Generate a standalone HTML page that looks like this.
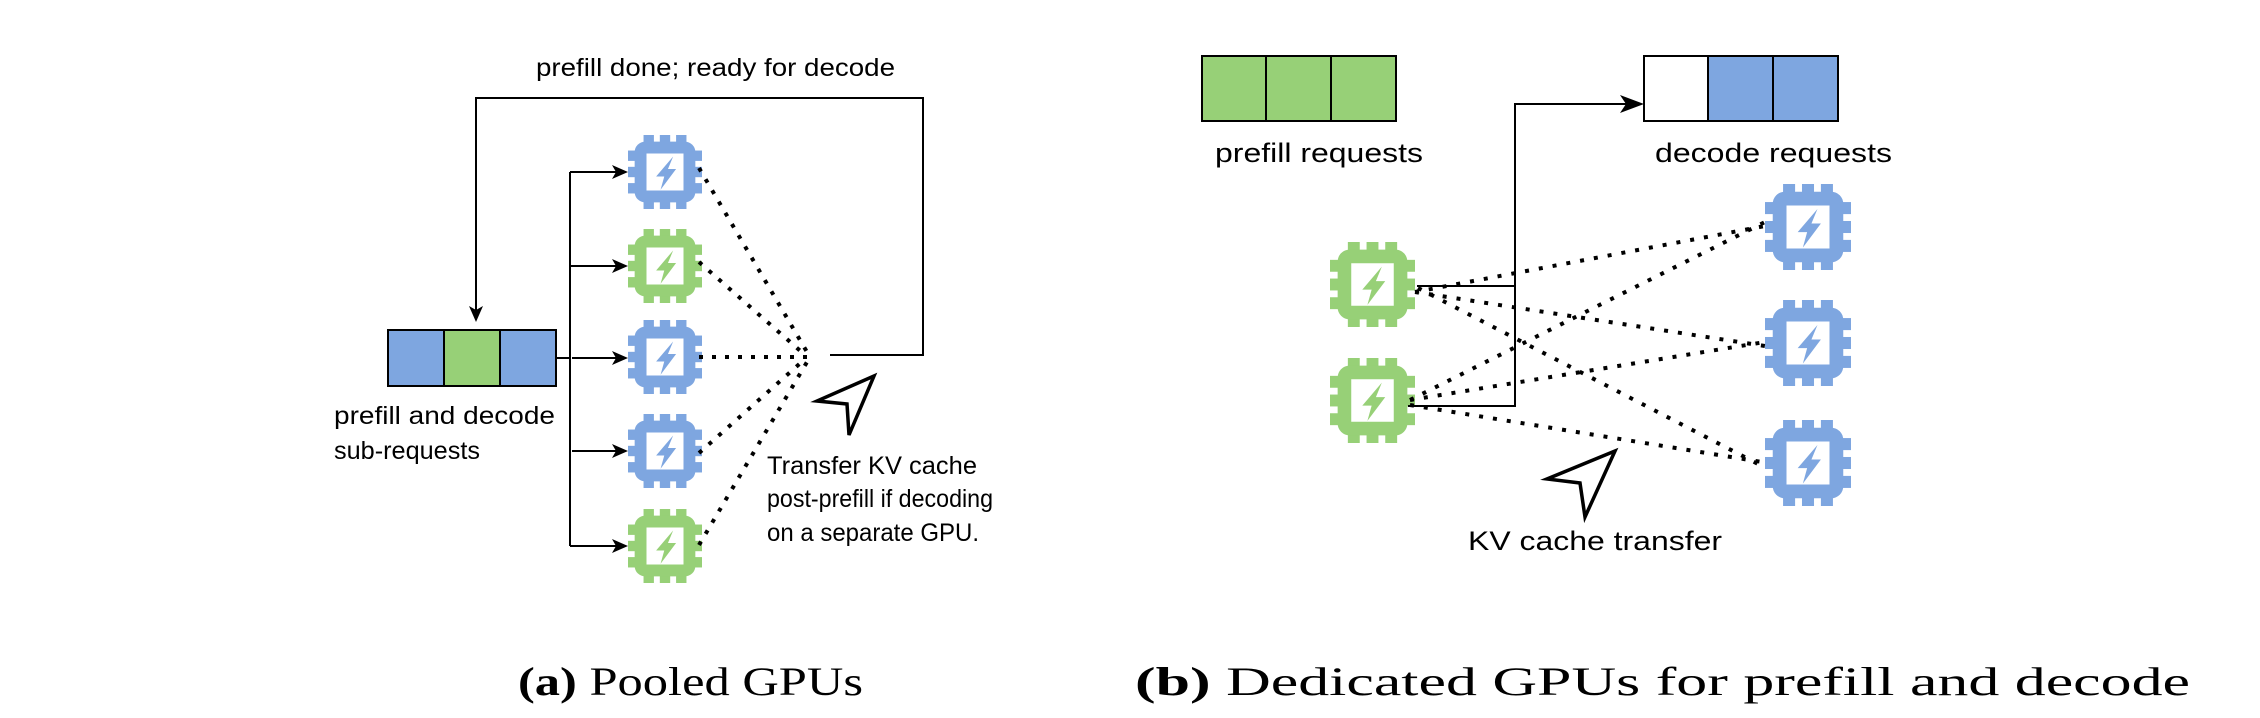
<!DOCTYPE html>
<html><head><meta charset="utf-8"><style>
html,body{margin:0;padding:0;background:#fff;}
svg{display:block;}
text{font-family:"Liberation Sans",sans-serif;fill:#000;}
.cap{font-family:"Liberation Serif",serif;}
</style></head><body>
<svg width="2260" height="718" viewBox="0 0 2260 718" xmlns="http://www.w3.org/2000/svg">
<defs>
<g id="chip">
  <rect x="21" y="0" width="14" height="14"/><rect x="43" y="0" width="14" height="14"/><rect x="65" y="0" width="14" height="14"/>
  <rect x="21" y="86" width="14" height="14"/><rect x="43" y="86" width="14" height="14"/><rect x="65" y="86" width="14" height="14"/>
  <rect x="0" y="21" width="14" height="14"/><rect x="0" y="43" width="14" height="14"/><rect x="0" y="65" width="14" height="14"/>
  <rect x="86" y="21" width="14" height="14"/><rect x="86" y="43" width="14" height="14"/><rect x="86" y="65" width="14" height="14"/>
  <rect x="9" y="9" width="82" height="82" rx="14"/>
  <rect x="25" y="25" width="50" height="50" fill="#fff"/>
  <polygon points="61,29 38,56 49,56 44,74 65,46 54,46"/>
</g>
</defs>

<!-- ===== (a) ===== -->
<text x="536" y="76" font-size="25" textLength="359" lengthAdjust="spacingAndGlyphs">prefill done; ready for decode</text>
<polyline points="830,355 923,355 923,98 476,98 476,315" fill="none" stroke="#000" stroke-width="2"/>
<polygon points="476,322 469,306 476,310 483,306" fill="#000"/>

<rect x="388" y="330" width="56" height="56" fill="#7EA6E0" stroke="#000" stroke-width="2"/>
<rect x="444" y="330" width="56" height="56" fill="#97D077" stroke="#000" stroke-width="2"/>
<rect x="500" y="330" width="56" height="56" fill="#7EA6E0" stroke="#000" stroke-width="2"/>
<text x="334" y="424" font-size="25" textLength="221" lengthAdjust="spacingAndGlyphs">prefill and decode</text>
<text x="334" y="459" font-size="25" textLength="146" lengthAdjust="spacingAndGlyphs">sub-requests</text>

<polyline points="556,358 570,358" stroke="#000" stroke-width="2"/>
<line x1="570" y1="172" x2="570" y2="546" stroke="#000" stroke-width="2"/>
<g stroke="#000" stroke-width="2">
<line x1="570" y1="172" x2="620" y2="172"/><line x1="570" y1="266" x2="620" y2="266"/>
<line x1="572" y1="358" x2="620" y2="358"/><line x1="572" y1="451" x2="620" y2="451"/>
<line x1="570" y1="546" x2="620" y2="546"/>
</g>
<g fill="#000">
<polygon points="628,172 612,165 616,172 612,179"/>
<polygon points="628,266 612,259 616,266 612,273"/>
<polygon points="628,358 612,351 616,358 612,365"/>
<polygon points="628,451 612,444 616,451 612,458"/>
<polygon points="628,546 612,539 616,546 612,553"/>
</g>
<use href="#chip" transform="translate(628,135) scale(0.74)" fill="#7EA6E0"/>
<use href="#chip" transform="translate(628,229) scale(0.74)" fill="#97D077"/>
<use href="#chip" transform="translate(628,320) scale(0.74)" fill="#7EA6E0"/>
<use href="#chip" transform="translate(628,414) scale(0.74)" fill="#7EA6E0"/>
<use href="#chip" transform="translate(628,509) scale(0.74)" fill="#97D077"/>

<g stroke="#000" stroke-width="4" stroke-dasharray="4 9" fill="none">
<line x1="699" y1="168" x2="807" y2="352"/>
<line x1="699" y1="262" x2="805" y2="355"/>
<line x1="699" y1="357" x2="809" y2="357"/>
<line x1="699" y1="453" x2="805" y2="359"/>
<line x1="699" y1="545" x2="807" y2="362"/>
</g>
<polygon points="874,376 817,401 847,404 849,435" fill="none" stroke="#000" stroke-width="3.5"/>
<text x="767" y="474" font-size="25" textLength="210" lengthAdjust="spacingAndGlyphs">Transfer KV cache</text>
<text x="767" y="507" font-size="25" textLength="226" lengthAdjust="spacingAndGlyphs">post-prefill if decoding</text>
<text x="767" y="541" font-size="25" textLength="212" lengthAdjust="spacingAndGlyphs">on a separate GPU.</text>

<!-- ===== (b) ===== -->
<rect x="1202" y="56" width="64" height="65" fill="#97D077" stroke="#000" stroke-width="2"/>
<rect x="1266" y="56" width="65" height="65" fill="#97D077" stroke="#000" stroke-width="2"/>
<rect x="1331" y="56" width="65" height="65" fill="#97D077" stroke="#000" stroke-width="2"/>
<text x="1215" y="162" font-size="27" textLength="208" lengthAdjust="spacingAndGlyphs">prefill requests</text>

<rect x="1644" y="56" width="64" height="65" fill="#fff" stroke="#000" stroke-width="2"/>
<rect x="1708" y="56" width="65" height="65" fill="#7EA6E0" stroke="#000" stroke-width="2"/>
<rect x="1773" y="56" width="65" height="65" fill="#7EA6E0" stroke="#000" stroke-width="2"/>
<text x="1655" y="162" font-size="27" textLength="237" lengthAdjust="spacingAndGlyphs">decode requests</text>

<use href="#chip" transform="translate(1330,242) scale(0.85)" fill="#97D077"/>
<use href="#chip" transform="translate(1330,358) scale(0.85)" fill="#97D077"/>
<use href="#chip" transform="translate(1765,184) scale(0.86)" fill="#7EA6E0"/>
<use href="#chip" transform="translate(1765,300) scale(0.86)" fill="#7EA6E0"/>
<use href="#chip" transform="translate(1765,420) scale(0.86)" fill="#7EA6E0"/>

<polyline points="1417,286 1515,286" fill="none" stroke="#000" stroke-width="2"/>
<polyline points="1408,406 1515,406 1515,104 1634,104" fill="none" stroke="#000" stroke-width="2"/>
<polygon points="1644,104 1620,95 1626,104 1620,113" fill="#000"/>

<g stroke="#000" stroke-width="4" stroke-dasharray="4 10" fill="none">
<line x1="1415" y1="292" x2="1765" y2="226"/>
<line x1="1415" y1="292" x2="1765" y2="346"/>
<line x1="1418" y1="288" x2="1762" y2="466"/>
<line x1="1410" y1="400" x2="1765" y2="222"/>
<line x1="1410" y1="400" x2="1765" y2="342"/>
<line x1="1410" y1="405" x2="1762" y2="462"/>
</g>
<polygon points="1615,451 1547,479 1580,483 1585,517" fill="none" stroke="#000" stroke-width="3.5"/>
<text x="1468" y="550" font-size="27" textLength="254" lengthAdjust="spacingAndGlyphs">KV cache transfer</text>

<text class="cap" x="518" y="695" font-size="40" textLength="345" lengthAdjust="spacingAndGlyphs"><tspan font-weight="bold">(a)</tspan> Pooled GPUs</text>
<text class="cap" x="1135" y="695" font-size="40" textLength="1055" lengthAdjust="spacingAndGlyphs"><tspan font-weight="bold">(b)</tspan> Dedicated GPUs for prefill and decode</text>
</svg>
</body></html>
